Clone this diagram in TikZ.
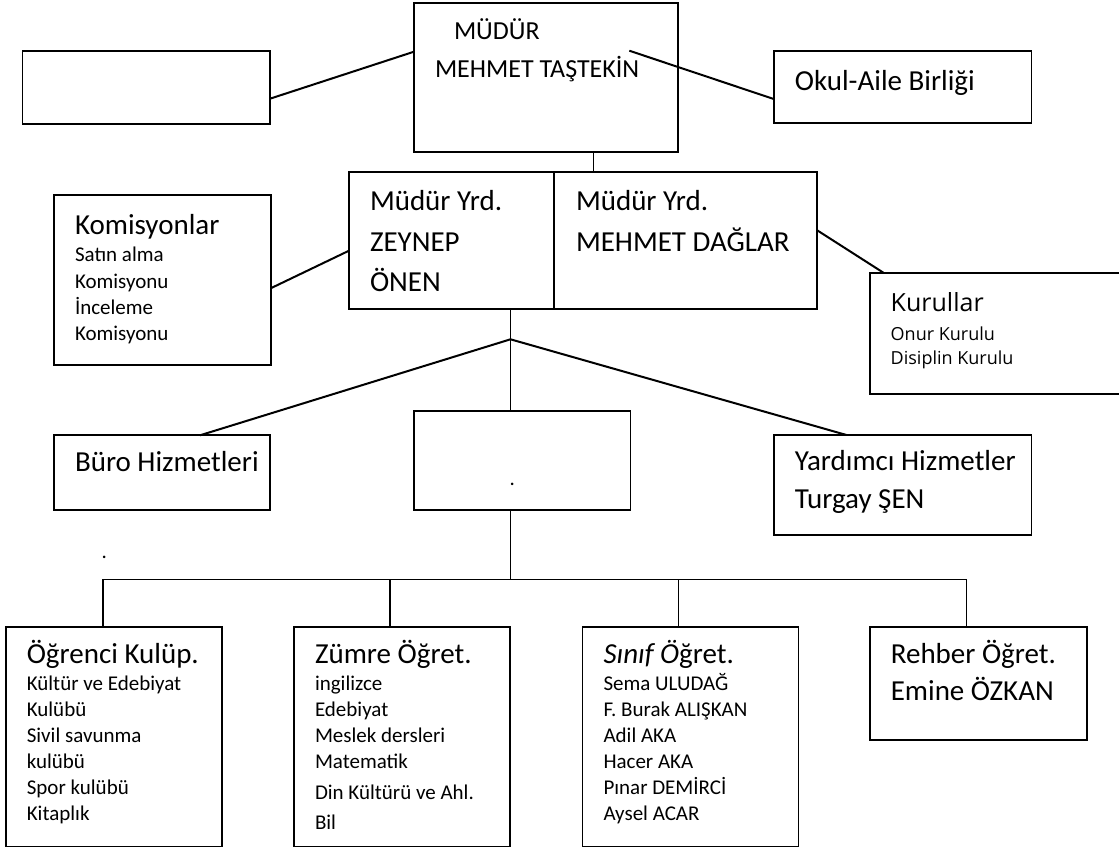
\documentclass[tikz,border=0pt]{standalone}
\usepackage{fontspec}
\setmainfont{Carlito}
\newfontfamily\osans{Open Sans}
\usetikzlibrary{calc}
\newcommand\fbig{\fontsize{29}{35}\selectfont}
\newcommand\fmid{\fontsize{26}{31}\selectfont}
\newcommand\fsmall{\fontsize{21}{25}\selectfont}
\newcommand\fkur{\osans\fontsize{25}{30}\selectfont}
\newcommand\fkurs{\osans\fontsize{18}{22}\selectfont}
\begin{document}
\begin{tikzpicture}[x=1pt,y=-1pt,
  box/.style={draw, line width=1.8pt, rectangle, inner sep=0pt, outer sep=0pt, anchor=north west},
  txt/.style={anchor=base west, inner sep=0pt, outer sep=0pt},
  conn/.style={line width=2pt},
  thin/.style={line width=1.4pt}]
\useasboundingbox (0,0) rectangle (1119,848);
% boxes
\node[box, minimum width=247.5pt, minimum height=72.7pt] (lb) at (22.5,51) {};
\node[box, minimum width=264.3pt, minimum height=149pt] (mudur) at (414,3.3) {};
\node[box, minimum width=257.8pt, minimum height=72.3pt] (okul) at (773.7,51) {};
\node[box, minimum width=205.3pt, minimum height=137.3pt] (zeynep) at (349,171.7) {};
\node[box, minimum width=262.4pt, minimum height=137.3pt] (daglar) at (554.3,171.7) {};
\node[box, minimum width=216.7pt, minimum height=170pt] (komis) at (54,195) {};
\node[box, minimum width=255pt, minimum height=121.6pt] (kurul) at (870,272.7) {};
\node[box, minimum width=216.4pt, minimum height=74.4pt] (buro) at (53.6,435.3) {};
\node[box, minimum width=216.9pt, minimum height=98.7pt] (center) at (413.6,411) {};
\node[box, minimum width=257.8pt, minimum height=100.3pt] (yard) at (773.7,435) {};
\node[box, minimum width=216pt, minimum height=219.2pt] (ogr) at (6,627.3) {};
\node[box, minimum width=216.4pt, minimum height=219.2pt] (zumre) at (293.6,627.3) {};
\node[box, minimum width=216pt, minimum height=219.2pt] (sinif) at (582.5,627.3) {};
\node[box, minimum width=217.2pt, minimum height=113pt] (rehber) at (869.8,627.3) {};
% connectors
\draw[conn] ($(lb.north east)+(0,47.7)$) -- ($(mudur.north west)+(0,48.4)$);
\coordinate (m1) at (629.3,50.7);
\draw[conn] (m1) -- ($(okul.north west)+(0,48)$);
\draw[thin] ($(mudur.south west)+(179.3,0)$) -- ($(daglar.north west)+(39,0)$);
\draw[conn] ($(komis.north east)+(0,93.3)$) -- ($(zeynep.north west)+(0,79)$);
\draw[conn] ($(daglar.north east)+(0,58.3)$) -- ($(kurul.north west)+(13.4,0)$);
\coordinate (hub) at (510.5,339.3);
\draw[thin] (hub |- zeynep.south) -- (hub |- center.north);
\draw[conn] (hub) -- ($(buro.north west)+(146.4,0)$);
\draw[conn] (hub) -- ($(yard.north west)+(72.8,0)$);
\coordinate (busM) at (510.5,579.3);
\coordinate (busL) at (102.9,579.3);
\coordinate (busB) at (390,579.3);
\coordinate (busC) at (678.5,579.3);
\coordinate (busR) at (966.5,579.3);
\draw[thin] (hub |- center.south) -- (busM);
\draw[thin] (ogr.north -| busL) -- (busL) -- (busR) -- (rehber.north -| busR);
\draw[thin] (busB) -- (zumre.north -| busB);
\draw[thin] (busC) -- (sinif.north -| busC);
% texts
\node[txt] (t1) at (454,40) {\fmid MÜDÜR};
\node[txt] (t2) at (435,77.3) {\fmid MEHMET TAŞTEKİN};
\node[txt] (t3) at (794.8,90.5) {\fbig Okul-Aile Birliği};
\node[txt] (t4) at (370,210) {\fbig Müdür Yrd.};
\node[txt] (t5) at (370,251.7) {\fbig ZEYNEP};
\node[txt] (t6) at (370,291.7) {\fbig ÖNEN};
\node[txt] (t7) at (576,210) {\fbig Müdür Yrd.};
\node[txt] (t8) at (576,251.7) {\fbig MEHMET DAĞLAR};
\node[txt] (t9) at (75,234.3) {\fbig Komisyonlar};
\node[txt] (t10) at (75,261.7) {\fsmall Satın alma};
\node[txt] (t11) at (75,288.3) {\fsmall Komisyonu};
\node[txt] (t12) at (75,314) {\fsmall İnceleme};
\node[txt] (t13) at (75,340) {\fsmall Komisyonu};
\node[txt] (t14) at (890.7,311) {\fkur Kurullar};
\node[txt] (t15) at (890.7,340.7) {\fkurs Onur Kurulu};
\node[txt] (t16) at (890.7,364) {\fkurs Disiplin Kurulu};
\node[txt] (t17) at (75,471.7) {\fbig Büro Hizmetleri};
\node[txt] (t18) at (794.8,470.7) {\fbig Yardımcı Hizmetler};
\node[txt] (t19) at (794.8,508.3) {\fbig Turgay ŞEN};
\node[txt] (t20) at (509.5,485.5) {\fsmall .};
\node[txt] (t21) at (101.5,558) {\fsmall .};
\node[txt] (t22) at (26.8,663.3) {\fbig Öğrenci Kulüp.};
\node[txt] (t23) at (26.8,690.7) {\fsmall Kültür ve Edebiyat};
\node[txt] (t24) at (26.8,716.7) {\fsmall Kulübü};
\node[txt] (t25) at (26.8,742.7) {\fsmall Sivil savunma};
\node[txt] (t26) at (26.8,768.7) {\fsmall kulübü};
\node[txt] (t27) at (26.8,794.7) {\fsmall Spor kulübü};
\node[txt] (t28) at (26.8,820.7) {\fsmall Kitaplık};
\node[txt] (t29) at (315,663.3) {\fbig Zümre Öğret.};
\node[txt] (t30) at (315,690.7) {\fsmall ingilizce};
\node[txt] (t31) at (315,716.7) {\fsmall Edebiyat};
\node[txt] (t32) at (315,742.7) {\fsmall Meslek dersleri};
\node[txt] (t33) at (315,768.7) {\fsmall Matematik};
\node[txt] (t34) at (315,799.2) {\fsmall Din Kültürü ve Ahl.};
\node[txt] (t35) at (315,829.4) {\fsmall Bil};
\node[txt] (t36) at (603.5,663.3) {\fbig \textit{Sınıf Ö}ğret.};
\node[txt] (t37) at (603.5,690.7) {\fsmall Sema ULUDAĞ};
\node[txt] (t38) at (603.5,716.7) {\fsmall F. Burak ALIŞKAN};
\node[txt] (t39) at (603.5,742.7) {\fsmall Adil AKA};
\node[txt] (t40) at (603.5,768.7) {\fsmall Hacer AKA};
\node[txt] (t41) at (603.5,794.7) {\fsmall Pınar DEMİRCİ};
\node[txt] (t42) at (603.5,820.7) {\fsmall Aysel ACAR};
\node[txt] (t43) at (890.8,663.3) {\fbig Rehber Öğret.};
\node[txt] (t44) at (890.8,700) {\fbig Emine ÖZKAN};
\end{tikzpicture}
\end{document}
